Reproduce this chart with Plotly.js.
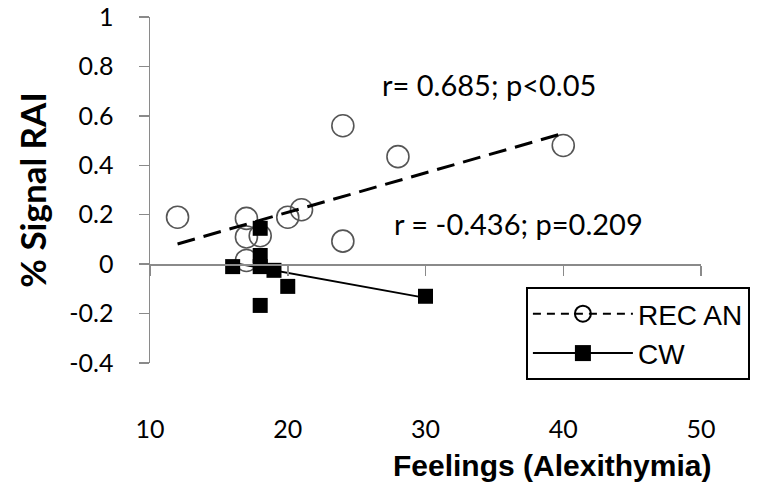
<!DOCTYPE html>
<html>
<head>
<meta charset="utf-8">
<script src="https://cdn.plot.ly/plotly-3.0.1.min.js"></script>
<style>html,body{margin:0;padding:0;background:#fff;}#chart{width:761px;height:484px;}</style>
</head>
<body>
<div id="chart"></div>
<script>
// REC AN group
var recX = [12, 17, 17, 17, 18, 20, 21, 24, 24, 28, 40];
var recY = [0.19, 0.185, 0.11, 0.015, 0.115, 0.19, 0.22, 0.56, 0.093, 0.435, 0.48];
// CW group
var cwX = [16, 18, 18, 18, 18, 19, 20, 30];
var cwY = [-0.01, 0.145, 0.035, -0.01, -0.167, -0.025, -0.09, -0.13];
// Axis ticks
var xTicks = [10, 20, 30, 40, 50];
var yTickVals = [-0.4, -0.2, 0, 0.2, 0.4, 0.6, 0.8, 1];
var yTickText = ['-0.4', '-0.2', '0', '0.2', '0.4', '0.6', '0.8', '1'];
var labelRec = 'r= 0.685; p&lt;0.05';
var labelCw = 'r = -0.436; p=0.209';

function fit(xs, ys) {
  var n = xs.length, mx = 0, my = 0;
  for (var i = 0; i < n; i++) { mx += xs[i]; my += ys[i]; }
  mx /= n; my /= n;
  var sxy = 0, sxx = 0;
  for (var j = 0; j < n; j++) { sxy += (xs[j]-mx)*(ys[j]-my); sxx += (xs[j]-mx)*(xs[j]-mx); }
  var b = sxy / sxx, a = my - b*mx;
  var x0 = Math.min.apply(null, xs), x1 = Math.max.apply(null, xs);
  return {x: [x0, x1], y: [a + b*x0, a + b*x1]};
}
var recFit = fit(recX, recY);
var cwFit = fit(cwX, cwY);

var tickFont = {family: 'Lato, "Open Sans", sans-serif', size: 25, color: '#000'};
var noteFont = {family: 'Lato, "Open Sans", sans-serif', size: 29, color: '#000'};
var axisGray = '#8a8a8a';

var traces = [
  {x: recX, y: recY, type: 'scatter', mode: 'markers', showlegend: false, cliponaxis: false,
   marker: {symbol: 'circle-open', size: 22, color: '#555', line: {width: 1.6}}},
  {x: recFit.x, y: recFit.y, type: 'scatter', mode: 'lines', showlegend: false,
   line: {color: '#000', width: 3, dash: '18px,9px'}},
  {x: cwFit.x, y: cwFit.y, type: 'scatter', mode: 'lines', showlegend: false,
   line: {color: '#000', width: 2}},
  {x: cwX, y: cwY, type: 'scatter', mode: 'markers', showlegend: false, cliponaxis: false,
   marker: {symbol: 'square', size: 15, color: '#000'}},
  {x: [null], y: [null], type: 'scatter', mode: 'lines+markers', name: 'REC AN',
   line: {color: '#000', width: 2, dash: '8px,6px'},
   marker: {symbol: 'circle-open', size: 16, color: '#000', line: {width: 2}}},
  {x: [null], y: [null], type: 'scatter', mode: 'lines+markers', name: 'CW',
   line: {color: '#000', width: 2},
   marker: {symbol: 'square', size: 16, color: '#000'}}
];

var layout = {
  width: 761, height: 484,
  margin: {l: 150, r: 59, t: 17, b: 121, pad: 0},
  paper_bgcolor: '#fff', plot_bgcolor: '#fff',
  showlegend: true,
  legend: {x: 0.681, y: 0.2197, xanchor: 'left', yanchor: 'top',
    bordercolor: '#000', borderwidth: 2, bgcolor: '#fff',
    font: {family: '"Liberation Sans", Arial, sans-serif', size: 28, color: '#000'},
    itemwidth: 100, tracegroupgap: 0},
  xaxis: {range: [10, 50], anchor: 'free', position: 0.4/1.4,
    tickvals: xTicks, ticktext: xTicks.map(String),
    showline: true, linecolor: axisGray, linewidth: 1.5,
    ticks: 'outside', ticklen: 10, tickwidth: 1.5, tickcolor: axisGray,
    ticklabelstandoff: 132,
    showgrid: false, zeroline: false, tickfont: tickFont},
  yaxis: {range: [-0.4, 1], tickvals: yTickVals, ticktext: yTickText,
    showline: true, linecolor: axisGray, linewidth: 1.5,
    ticks: 'outside', ticklen: 10, tickwidth: 1.5, tickcolor: axisGray,
    ticklabelstandoff: 20,
    showgrid: false, zeroline: false, tickfont: tickFont,
    title: {text: '% Signal RAI', standoff: 12,
      font: {family: 'Lato, "Open Sans", sans-serif', size: 35, color: '#000', weight: 'bold'}}},
  annotations: [
    {xref: 'paper', yref: 'paper', x: 0.730, y: -0.295, xanchor: 'center', yanchor: 'middle',
     text: '<b>Feelings (Alexithymia)</b>', showarrow: false,
     font: {family: '"Liberation Sans", Arial, sans-serif', size: 30, color: '#000'}},
    {x: 26.67, y: 0.726, xref: 'x', yref: 'y', xanchor: 'left', yanchor: 'middle',
     text: labelRec, showarrow: false, font: noteFont},
    {x: 27.6, y: 0.166, xref: 'x', yref: 'y', xanchor: 'left', yanchor: 'middle',
     text: labelCw, showarrow: false, font: noteFont}
  ]
};

Plotly.newPlot('chart', traces, layout, {displayModeBar: false, staticPlot: true});
</script>
</body>
</html>
